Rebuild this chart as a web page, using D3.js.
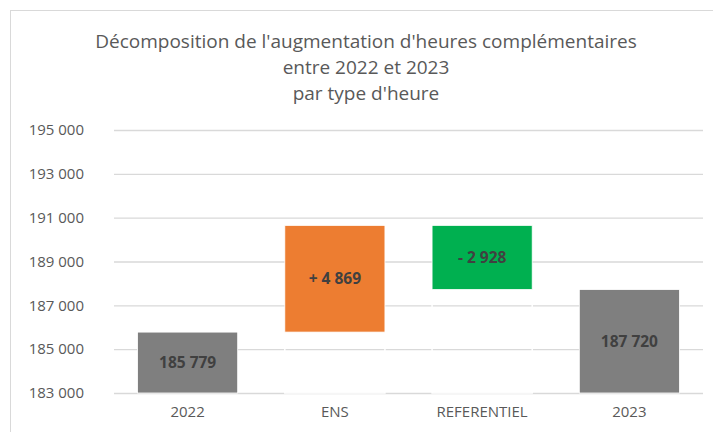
<!DOCTYPE html>
<html>
<head>
<meta charset="utf-8">
<script src="https://cdn.jsdelivr.net/npm/d3@7"></script>
<style>
  body { margin: 0; background: #fff; }
  svg { display: block; font-family: "Open Sans", "Liberation Sans", sans-serif; }
</style>
</head>
<body>
<svg id="chart" width="713" height="432"></svg>
<script>
// data
var categories = ["2022", "ENS", "REFERENTIEL", "2023"];
var steps = [185779, 4869, -2928, 187720];
var kinds = ["total", "delta", "delta", "total"];
var colors = ["#7f7f7f", "#ed7d31", "#00b050", "#7f7f7f"];
var labels = ["185 779", "+ 4 869", "- 2 928", "187 720"];
var yTicks = [183000, 185000, 187000, 189000, 191000, 193000, 195000];
var titleLines = ["Décomposition de l'augmentation d'heures complémentaires", "entre 2022 et 2023", "par type d'heure"];

var svg = d3.select("#chart"),
    width = +svg.attr("width"),
    height = +svg.attr("height");

var fr = d3.formatLocale({decimal: ",", thousands: " ", grouping: [3], currency: ["", " €"]});
var fmt = fr.format(",d");

// build waterfall rows (low/high) from the steps
var running = 0;
var rows = categories.map(function(c, i) {
  var lo, hi;
  if (kinds[i] == "total") {
    running = steps[i];
    lo = 0; hi = running;
  } else {
    var prev = running;
    running = prev + steps[i];
    lo = Math.min(prev, running); hi = Math.max(prev, running);
  }
  return {cat: c, lo: lo, hi: hi, kind: kinds[i], color: colors[i], label: labels[i]};
});

// chart frame (cut off at right/bottom like the source)
svg.append("rect")
  .attr("x", 10.5).attr("y", 10.5)
  .attr("width", width + 20).attr("height", height + 20)
  .attr("fill", "none").attr("stroke", "#d9d9d9");

var x = d3.scaleBand().domain(categories).range([114, 703]).paddingInner(0.32).paddingOuter(0.16);
var y = d3.scaleLinear().domain([183000, 195000]).range([393, 130]);

// title
svg.append("g").selectAll("text")
  .data(titleLines)
  .enter().append("text")
    .attr("x", 366)
    .attr("y", function(d, i) { return 48 + i * 26; })
    .attr("text-anchor", "middle")
    .attr("fill", "#595959")
    .style("font-size", "19px")
    .text(function(d) { return d; });

// gridlines + y labels
var yAxis = d3.axisLeft(y).tickValues(yTicks).tickSize(-(703 - 114)).tickPadding(30)
  .tickFormat(function(d) { return fmt(d); });
var gy = svg.append("g").attr("transform", "translate(114,0)").call(yAxis);
gy.select(".domain").remove();
gy.selectAll(".tick line").attr("stroke", "#d9d9d9").attr("stroke-width", 1.3);
gy.selectAll(".tick text").attr("fill", "#595959").style("font-size", "15px")
  .style("font-family", "'Open Sans', sans-serif");

// invisible base bars with white outline (break the gridlines like Excel)
svg.append("g").selectAll("rect")
  .data(rows.filter(function(d) { return d.kind == "delta"; }))
  .enter().append("rect")
    .attr("x", function(d) { return x(d.cat); })
    .attr("width", x.bandwidth())
    .attr("y", function(d) { return y(d.lo); })
    .attr("height", function(d) { return y(183000) - y(d.lo); })
    .attr("fill", "none")
    .attr("stroke", "#fff")
    .attr("stroke-width", 1.5);

// visible bars
svg.append("g").selectAll("rect")
  .data(rows)
  .enter().append("rect")
    .attr("x", function(d) { return x(d.cat); })
    .attr("width", x.bandwidth())
    .attr("y", function(d) { return y(d.hi); })
    .attr("height", function(d) { return Math.min(y(d.lo), y(183000)) - y(d.hi); })
    .attr("fill", function(d) { return d.color; })
    .attr("stroke", "#fff")
    .attr("stroke-width", 0.8);

// value labels
svg.append("g").selectAll("text")
  .data(rows)
  .enter().append("text")
    .attr("x", function(d) { return x(d.cat) + x.bandwidth() / 2; })
    .attr("y", function(d) { return (y(d.hi) + Math.min(y(d.lo), y(183000))) / 2; })
    .attr("dy", "0.35em")
    .attr("text-anchor", "middle")
    .attr("fill", "#404040")
    .style("font-size", "15.5px")
    .style("font-weight", "bold")
    .text(function(d) { return d.label; });

// category labels
svg.append("g").selectAll("text")
  .data(categories)
  .enter().append("text")
    .attr("x", function(d) { return x(d) + x.bandwidth() / 2; })
    .attr("y", 417)
    .attr("text-anchor", "middle")
    .attr("fill", "#595959")
    .style("font-size", "15px")
    .text(function(d) { return d; });
</script>
</body>
</html>
